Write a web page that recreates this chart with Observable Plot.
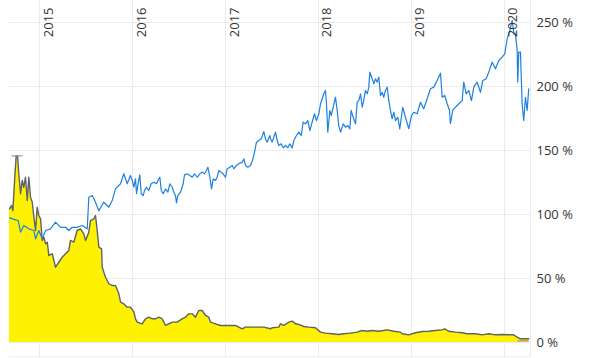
<!DOCTYPE html>
<html><head><meta charset="utf-8">
<script src="https://cdn.jsdelivr.net/npm/d3@7"></script>
<script src="https://cdn.jsdelivr.net/npm/@observablehq/plot@0.6"></script>
<style>body{margin:0;background:#fff;overflow:hidden}</style>
</head><body><div id="chart"></div>
<script>
// x values are decimal years
const blueX = [2014.677,2014.742,2014.771,2014.796,2014.831,2014.885,2014.939,2014.957,2014.992,2015.029,2015.065,2015.118,2015.172,2015.226,2015.280,2015.315,2015.352,2015.405,2015.459,2015.513,2015.530,2015.567,2015.602,2015.638,2015.691,2015.745,2015.782,2015.817,2015.871,2015.906,2015.943,
2015.978,2015.997,2016.014,2016.032,2016.043,2016.057,2016.078,2016.094,2016.115,2016.129,2016.151,2016.175,2016.201,2016.229,2016.258,2016.283,2016.294,2016.309,2016.330,2016.355,2016.380,2016.401,2016.427,2016.444,2016.462,2016.473,2016.487,2016.516,2016.545,2016.559,2016.588,2016.616,2016.642,2016.667,2016.696,2016.724,2016.749,2016.774,2016.796,2016.810,2016.832,2016.849,2016.868,2016.892,2016.910,2016.928,2016.954,2016.975,
2017.000,2017.018,2017.046,2017.072,2017.090,2017.118,2017.143,2017.180,2017.197,2017.215,2017.240,2017.269,2017.290,2017.312,2017.333,2017.358,2017.384,2017.412,2017.430,2017.448,2017.477,
2017.484,2017.502,2017.519,2017.538,2017.556,2017.573,2017.599,2017.620,2017.645,2017.670,2017.691,2017.717,2017.735,2017.763,2017.788,2017.814,2017.835,2017.860,2017.885,2017.907,2017.932,2017.957,2017.978,
2018.004,2018.022,2018.039,2018.057,2018.075,2018.086,2018.100,2018.122,2018.137,2018.158,2018.183,2018.201,2018.218,2018.237,2018.265,2018.290,2018.315,2018.337,2018.351,2018.373,2018.398,2018.416,2018.434,2018.452,2018.470,2018.487,2018.505,2018.524,2018.541,2018.552,2018.577,2018.595,2018.613,2018.631,2018.648,2018.667,2018.685,2018.702,2018.720,2018.739,2018.756,2018.774,2018.792,2018.810,2018.828,2018.853,2018.874,
2018.906,2018.935,2018.971,
2019.000,2019.025,2019.061,2019.097,2019.132,2019.169,2019.204,2019.240,2019.276,2019.312,2019.330,2019.358,2019.384,2019.409,2019.419,2019.444,2019.473,2019.509,2019.545,2019.562,2019.588,2019.616,2019.645,2019.670,2019.706,2019.742,2019.767,2019.803,2019.831,2019.868,2019.903,2019.939,2019.975,
2020.003,2020.029,2020.054,2020.083,2020.100,2020.118,2020.137,2020.143,2020.154,2020.172,2020.190,2020.207,2020.226,2020.244,2020.261];
const blueY = [97.4,95.8,95.3,86.2,91.4,88.8,87.5,81,87.5,81,87.5,88.8,94,90,90,87.5,90,90,91.4,88.8,113.5,114.8,109.6,103,109.6,105.7,111,120,124,131.8,124,
130.5,126.6,121.3,127.9,116.2,122.7,131,116.2,114.8,118.8,121.3,118.8,124,125.2,124,127.9,129.1,118.8,116.2,120,117.4,124,121.3,117.4,114.8,109.1,114.8,117.4,124,131,131.8,130.5,129.1,131.8,129.1,131.8,133.1,131.8,134.4,137,129.1,120,127.9,126.6,129.1,134.4,133.1,131.8,
129.1,135.7,137,138.3,135.7,138.3,139.6,140.9,143.5,138.3,137,138.3,142.2,148.7,156.5,157.8,159.1,164.8,159.1,156.5,161.7,
159.1,156.5,160.4,164.3,157.8,153.9,155.2,152.1,153.9,152.1,155.2,152.1,157.8,161.7,164.3,161.7,172.1,170.8,173.4,165.6,172.1,178.7,173.4,
178.7,186.5,190.4,194.3,196.9,186.5,164.3,181.3,177.3,183.8,191.6,181.3,169.5,164.3,170.8,168.2,169.5,166.9,181.3,176,170.8,187.8,189.1,194.3,183.8,189.1,196.9,194.3,199.5,211.2,206,202.1,206,203.4,207.3,192.9,195.5,191.6,196.9,199.5,189.1,181.3,174.8,180,173.4,176,166.9,
183.8,176,167,
177.3,179.9,178.7,187.7,182.6,190.4,198.2,199.5,204.7,210.4,191.6,193,186.5,181.3,170.9,181.3,183.8,186.5,189,203.4,194.3,196.9,189,199.5,203.4,195.5,204.7,206,211.2,219,213.8,220.3,222.9,
225.5,237.3,242.4,251.6,242.4,241,228,203.4,226.8,226.8,186.5,173.4,191.6,181.3,198.2];

const yellowX = [2014.677,2014.699,2014.713,2014.734,2014.749,2014.763,2014.777,2014.796,2014.814,2014.831,2014.849,2014.868,2014.885,2014.903,2014.922,2014.939,2014.957,2014.975,2014.992,2015.011,2015.029,2015.046,2015.065,2015.083,2015.100,2015.137,2015.172,2015.208,2015.244,2015.280,2015.315,2015.333,2015.369,2015.405,2015.441,2015.476,2015.495,2015.530,2015.548,2015.584,2015.602,2015.620,2015.638,2015.667,2015.674,2015.710,2015.745,2015.782,2015.817,2015.853,2015.871,2015.906,2015.943,2015.978,
2016.014,2016.032,2016.051,2016.104,2016.140,2016.175,2016.212,2016.247,2016.283,2016.319,2016.355,2016.390,2016.427,2016.481,2016.534,2016.570,2016.605,2016.642,2016.677,2016.713,2016.749,2016.785,2016.820,2016.839,2016.892,2016.946,
2017.000,2017.054,2017.108,2017.143,2017.180,2017.215,2017.287,2017.358,2017.412,2017.484,2017.502,2017.573,2017.591,2017.627,2017.681,2017.717,2017.753,2017.788,2017.842,2017.896,2017.968,
2018.022,2018.075,2018.147,2018.218,2018.272,2018.344,2018.416,2018.470,2018.524,2018.577,2018.648,2018.739,2018.810,2018.882,2018.899,2018.971,
2019.043,2019.115,2019.186,2019.258,2019.330,2019.358,2019.401,2019.473,2019.545,2019.599,2019.688,2019.760,2019.831,2019.903,2019.975,
2020.046,2020.100,2020.137,2020.172,2020.261];
const yellowY = [104.4,107,103,129.1,146,146,131.8,116.2,126.6,121.3,129.1,110.9,129.1,113.5,109.6,97.9,87.5,105.7,99.2,96.6,79.7,82.3,77.1,78.4,68,69.3,58.8,62.7,66.6,69.3,71.9,79.7,78.4,87.5,88.8,84.9,79.7,86.2,95.3,96.6,99.2,87.5,74.5,73.2,58.8,51,45.9,44.5,44.5,38,31.5,30.2,27.6,27.6,
24,18.5,15.9,14.6,18.5,19.8,18.5,18.5,19.8,18.5,13.3,14.6,15.9,15.9,18.5,19.8,22.4,22.4,19.8,25,25,21.1,19.8,15.9,14.6,13.3,
13.3,13.3,13.3,12,10.7,12,12,12,12,10.7,11.5,12,14.6,13.3,15.9,16.7,14.6,14.1,12.5,12,11.5,
8.1,7.3,6.8,6.3,6.8,7.3,8.1,9.4,8.8,9.4,8.8,9.9,8.8,8.1,6.8,6,
7.6,8.6,8.8,9.4,9.9,10.7,8.8,8.1,7.6,6.8,6.8,6,6.8,6,6.3,
6,6,4.1,2.9,2.9];

const yearTicks = [2015,2016,2017,2018,2019,2020];
const pctTicks = [0,50,100,150,200,250];
const rangeX1 = [2014.699, 2020.140];
const rangeX2 = [2014.817, 2020.261];
const rangeY = [145.8, 1.3];

const blue = blueX.map((x,i)=>({x, y: blueY[i]}));
const yellow = yellowX.map((x,i)=>({x, y: yellowY[i]}));
const ranges = rangeY.map((y,i)=>({x1: rangeX1[i], x2: rangeX2[i], y}));

const chart = Plot.plot({
  width: 589, height: 358,
  marginLeft: 9, marginRight: 59, marginTop: 0, marginBottom: 2,
  style: {fontFamily: "'Open Sans', sans-serif", fontSize: "13px", color: "#333", background: "#fff"},
  x: {domain: [2014.677, 2020.280], axis: null},
  y: {domain: [-10.94, 267.19], axis: null},
  marks: [
    Plot.ruleY(pctTicks, {stroke: "#ebebeb", strokeWidth: 1}),
    Plot.ruleY([-10.94], {stroke: "#ebebeb", strokeWidth: 1}),
    Plot.ruleX(yearTicks, {stroke: "#ebebeb", strokeWidth: 1}),
    Plot.ruleX([2020.280], {stroke: "#ebebeb", strokeWidth: 1}),
    Plot.areaY(yellow, {x: "x", y: "y", fill: "#fff200"}),
    Plot.line(yellow, {x: "x", y: "y", stroke: "#5f6266", strokeWidth: 1.4}),
    Plot.link(ranges, {x1: "x1", x2: "x2", y1: "y", y2: "y", stroke: "#9a9a9a", strokeWidth: 1.2}),
    Plot.line(blue, {x: "x", y: "y", stroke: "#1e80e0", strokeWidth: 1.2}),
    Plot.text(pctTicks, {x: 2020.280, y: d => d, text: d => d + " %", textAnchor: "start", dx: 6, fill: "#333", fontSize: 13}),
    Plot.text(yearTicks, {x: d => d, frameAnchor: "top", text: d => String(d), rotate: -90, textAnchor: "end", lineAnchor: "bottom", dx: 13, dy: 7, fill: "#333", fontSize: 13})
  ]
});
document.getElementById("chart").appendChild(chart);
</script>
</body></html>
